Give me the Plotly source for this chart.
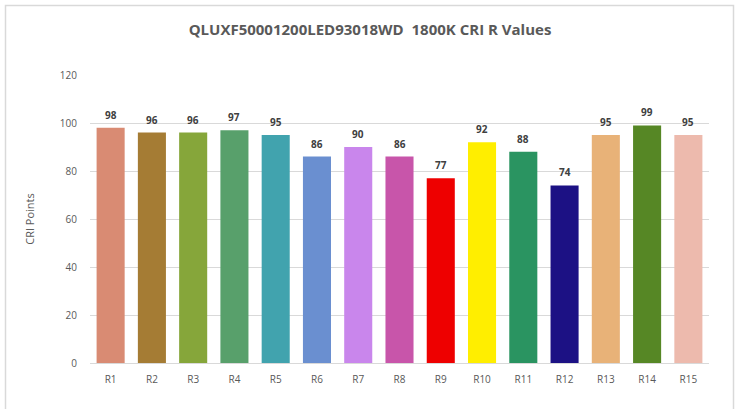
import plotly.graph_objects as go

categories = ["R1", "R2", "R3", "R4", "R5", "R6", "R7", "R8", "R9", "R10", "R11", "R12", "R13", "R14", "R15"]
values = [98, 96, 96, 97, 95, 86, 90, 86, 77, 92, 88, 74, 95, 99, 95]
colors = ["#D98B73", "#A57C34", "#86A63A", "#58A06B", "#41A3AE", "#6A8FD0", "#C986EC", "#C855AA",
          "#EE0000", "#FFEE00", "#2A9461", "#1C1184", "#E8B278", "#568725", "#EDBAAD"]

fig = go.Figure(go.Bar(
    x=categories, y=values, marker=dict(color=colors, line=dict(width=0)),
    hoverinfo="x+y",
))

for c, v in zip(categories, values):
    fig.add_annotation(x=c, y=v, text=f"<b>{v}</b>", showarrow=False,
                       yanchor="bottom", yshift=4,
                       font=dict(family="Open Sans", size=10, color="#404040"))

W, H = 739, 409
L, R, T, B = 90, 30, 75, 46
ph = H - T - B
pw = W - L - R
fig.update_layout(
    width=W, height=H,
    margin=dict(l=L, r=R, t=T, b=B, autoexpand=False),
    paper_bgcolor="white", plot_bgcolor="white",
    bargap=0.32,
    showlegend=False,
    title=dict(text="<b>QLUXF50001200LED93018WD  1800K CRI R Values</b>",
               x=(370 - L) / pw, xref="paper", xanchor="center",
               y=1 - 30 / H, yanchor="middle",
               font=dict(family="Open Sans", size=15, color="#595959")),
    font=dict(family="Open Sans", color="#595959"),
    xaxis=dict(showgrid=False, showline=True, linecolor="#D9D9D9", linewidth=1,
               ticks="outside", ticklen=7, tickcolor="rgba(0,0,0,0)",
               tickfont=dict(size=10, color="#595959"), automargin=False),
    yaxis=dict(range=[0, 120], dtick=20, showgrid=True, gridcolor="#D9D9D9", gridwidth=1,
               zeroline=False, ticks="outside", ticklen=10, tickcolor="rgba(0,0,0,0)",
               tickfont=dict(size=10, color="#595959"), automargin=False,
               title=dict(text="CRI Points", font=dict(size=11, color="#595959"), standoff=22)),
    shapes=[dict(type="rect", xref="paper", yref="paper",
                 x0=(5.5 - L) / pw, x1=(733.5 - L) / pw,
                 y0=-(B + 20) / ph, y1=(T - 5.5) / ph + 1,
                 line=dict(color="#D9D9D9", width=1.5), fillcolor="rgba(0,0,0,0)", layer="below")],
)

fig.write_html("out.html", config={"displayModeBar": False},
               post_script="document.body.style.margin='0';document.body.style.overflow='hidden';")
